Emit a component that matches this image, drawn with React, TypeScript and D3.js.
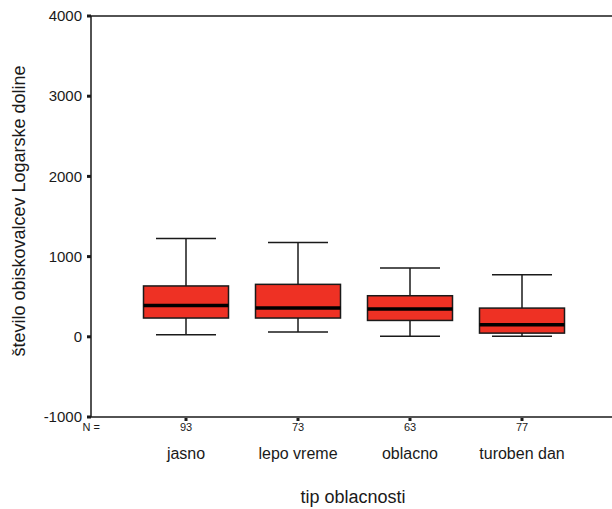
import React from "react";
import * as d3 from "d3";

const categories = ["jasno", "lepo vreme", "oblacno", "turoben dan"];
const counts = [93, 73, 63, 77];
const whiskerLow = [25, 59, 8, 8];
const q1 = [234, 234, 204, 46];
const medians = [391, 358, 346, 150];
const q3 = [634, 654, 512, 358];
const whiskerHigh = [1225, 1175, 858, 775];
const yTicks = [-1000, 0, 1000, 2000, 3000, 4000];

const W = 612;
const H = 509;
const font = "Arial, 'Liberation Sans', sans-serif";

export default function App() {
  const y = d3.scaleLinear().domain([-1000, 4000]).range([417, 16]);
  const x = d3.scalePoint<string>().domain(categories).range([186, 522]);
  const boxW = 85;
  const capW = 60;
  const red = "#ee3124";
  const ink = "#1a1a1a";

  return (
    <svg
      width={W}
      height={H}
      style={{ position: "absolute", left: 0, top: 0, background: "#fff" }}
      fontFamily={font}
    >
      {/* frame */}
      <line x1={91} x2={W} y1={y(4000)} y2={y(4000)} stroke={ink} strokeWidth={1.5} />
      <line x1={91} x2={W} y1={y(-1000)} y2={y(-1000)} stroke={ink} strokeWidth={1.5} />
      <line x1={91} x2={91} y1={y(4000)} y2={y(-1000)} stroke={ink} strokeWidth={1.5} />

      {yTicks.map((t) => (
        <g key={t}>
          <rect x={87} y={y(t) - 1.5} width={4} height={3} fill={ink} />
          <text x={82} y={y(t)} dy="0.35em" textAnchor="end" fontSize={15} fill={ink}>
            {t}
          </text>
        </g>
      ))}

      {categories.map((c, i) => {
        const cx = x(c)!;
        return (
          <g key={c}>
            <rect x={cx - 1.5} y={418} width={3} height={3} fill={ink} />
            <line x1={cx} x2={cx} y1={y(whiskerHigh[i])} y2={y(q3[i])} stroke={ink} strokeWidth={1.5} />
            <line x1={cx} x2={cx} y1={y(q1[i])} y2={y(whiskerLow[i])} stroke={ink} strokeWidth={1.5} />
            <line x1={cx - capW / 2} x2={cx + capW / 2} y1={y(whiskerHigh[i])} y2={y(whiskerHigh[i])} stroke={ink} strokeWidth={1.5} />
            <line x1={cx - capW / 2} x2={cx + capW / 2} y1={y(whiskerLow[i])} y2={y(whiskerLow[i])} stroke={ink} strokeWidth={1.5} />
            <rect
              x={cx - boxW / 2}
              y={y(q3[i])}
              width={boxW}
              height={y(q1[i]) - y(q3[i])}
              fill={red}
              stroke={ink}
              strokeWidth={1.5}
            />
            <line x1={cx - boxW / 2} x2={cx + boxW / 2} y1={y(medians[i])} y2={y(medians[i])} stroke="#000" strokeWidth={3.5} />
            <text x={cx} y={431} textAnchor="middle" fontSize={11} fill={ink}>
              {counts[i]}
            </text>
            <text x={cx} y={459} textAnchor="middle" fontSize={16} fill={ink}>
              {c}
            </text>
          </g>
        );
      })}

      <text x={100} y={431} textAnchor="end" fontSize={11} fill={ink}>
        N =
      </text>

      <text x={353} y={503} textAnchor="middle" fontSize={18} fill={ink}>
        tip oblacnosti
      </text>
      <text
        transform={`translate(25, 211) rotate(-90)`}
        textAnchor="middle"
        fontSize={18}
        fill={ink}
      >
        število obiskovalcev Logarske doline
      </text>
    </svg>
  );
}
